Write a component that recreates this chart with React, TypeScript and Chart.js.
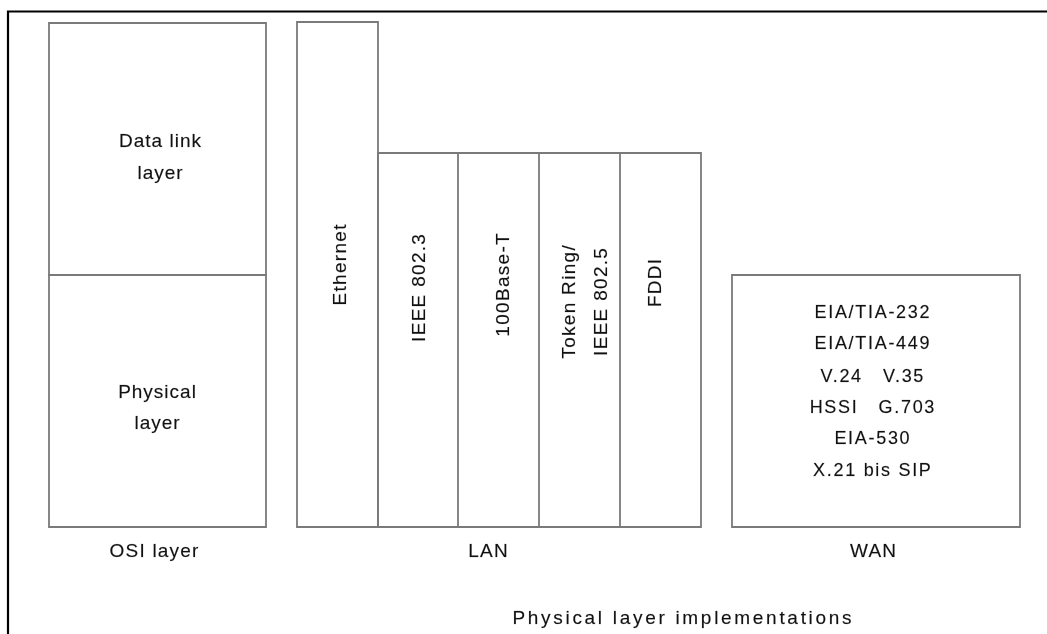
import React, { useEffect, useRef } from "react";
import { Chart, registerables } from "chart.js";

Chart.register(...registerables);

// ---- Diagram values (diagram units: x 0..1047, y 0..634 from top) ----
const frameX = [8, 8, 1047];
const frameY = [634, 11.5, 11.5];

const osiEdges = [49, 266];
const osiLevels = [23, 275, 527]; // top, data-link / physical split, bottom

const lanEdges = [297, 378, 458, 539, 620, 701];
const ethernetTop = 22;
const lanTop = 153;
const lanBottom = 527;

const wanEdges = [732, 1020];
const wanLevels = [275, 527];

const osiLayerLines = ["Data link", "layer", "Physical", "layer"];
const osiLayerX = [160, 160, 157, 157];
const osiLayerY = [140, 172, 391, 422];

const lanStandards = ["Ethernet", "IEEE 802.3", "100Base-T", "Token Ring/", "IEEE 802.5", "FDDI"];
const lanStandardX = [339, 418, 502, 568, 600, 654];
const lanStandardY = [265, 288, 285, 302, 302, 283];

const wanStandards = ["EIA/TIA-232", "EIA/TIA-449", "V.24   V.35", "HSSI   G.703", "EIA-530", "X.21 bis SIP"];
const wanStandardX = [872, 872, 872, 872, 872, 872];
const wanStandardY = [312, 343, 376, 407, 438, 470];

const groupLabels = ["OSI layer", "LAN", "WAN"];
const groupLabelX = [154, 488, 873];
const groupLabelY = [550.5, 550.5, 550.5];

const captionText = "Physical layer implementations";
const captionX = 682;
const captionY = 617.5;

// ---- helpers ----
type P = { x: number; y: number };
const rect = (l: number, r: number, t: number, b: number): P[] => [
  { x: l, y: b },
  { x: l, y: t },
  { x: r, y: t },
  { x: r, y: b },
  { x: l, y: b },
];
const seg = (x1: number, y1: number, x2: number, y2: number): P[] => [
  { x: x1, y: y1 },
  { x: x2, y: y2 },
];

const FONT = '"Liberation Sans", Arial, Helvetica, sans-serif';
const TEXT = "#111111";

const lineDs = (data: P[], color: string, width: number) => ({
  data,
  showLine: true,
  borderColor: color,
  borderWidth: width,
  pointRadius: 0,
  pointHoverRadius: 0,
  fill: false,
  tension: 0,
  borderCapStyle: "square" as const,
  borderJoinStyle: "miter" as const,
});

const labelsPlugin = {
  id: "diagramLabels",
  afterDatasetsDraw(chart: any) {
    const ctx: CanvasRenderingContext2D = chart.ctx;
    const xs = chart.scales.x;
    const ys = chart.scales.y;
    const px = (v: number) => xs.getPixelForValue(v);
    const py = (v: number) => ys.getPixelForValue(v);

    const put = (
      text: string,
      x: number,
      y: number,
      size: number,
      spacing: number,
      rotate = false
    ) => {
      ctx.save();
      ctx.font = `${size}px ${FONT}`;
      (ctx as any).letterSpacing = `${spacing}px`;
      ctx.fillStyle = TEXT;
      ctx.strokeStyle = "rgba(17,17,17,0.35)";
      ctx.lineWidth = 0.4;
      ctx.textBaseline = "alphabetic";
      ctx.textAlign = "left";
      const capHalf = size * 0.358;
      const w = ctx.measureText(text).width;
      const shift = spacing / 2; // compensate trailing letter spacing
      if (rotate) {
        ctx.translate(px(x), py(y));
        ctx.rotate(-Math.PI / 2);
        ctx.fillText(text, -w / 2 + shift, capHalf);
        ctx.strokeText(text, -w / 2 + shift, capHalf);
      } else {
        ctx.fillText(text, px(x) - w / 2 + shift, py(y) + capHalf);
        ctx.strokeText(text, px(x) - w / 2 + shift, py(y) + capHalf);
      }
      ctx.restore();
    };

    osiLayerLines.forEach((t, i) => put(t, osiLayerX[i], osiLayerY[i], 19, 1));
    lanStandards.forEach((t, i) => put(t, lanStandardX[i], lanStandardY[i], 19, 1.3, true));
    wanStandards.forEach((t, i) => put(t, wanStandardX[i], wanStandardY[i], 18, 1.7));
    groupLabels.forEach((t, i) => put(t, groupLabelX[i], groupLabelY[i], 19, 1.2));
    put(captionText, captionX, captionY, 19, 2.7);
  },
};

export default function App() {
  const ref = useRef<HTMLCanvasElement | null>(null);

  useEffect(() => {
    if (!ref.current) return;
    const outer = "#7a7a7a";
    const inner = "#555555";

    const datasets: any[] = [];
    // page frame
    datasets.push(lineDs(frameX.map((x, i) => ({ x, y: frameY[i] })), "#000000", 2.2));
    // OSI box + split
    datasets.push(lineDs(rect(osiEdges[0], osiEdges[1], osiLevels[0], osiLevels[2]), outer, 1.8));
    datasets.push(lineDs(seg(osiEdges[0], osiLevels[1], osiEdges[1], osiLevels[1]), outer, 1.8));
    // Ethernet column
    datasets.push(lineDs(rect(lanEdges[0], lanEdges[1], ethernetTop, lanBottom), outer, 1.8));
    // LAN sub-columns
    datasets.push(
      lineDs(rect(lanEdges[1], lanEdges[lanEdges.length - 1], lanTop, lanBottom), outer, 1.8)
    );
    for (let i = 2; i < lanEdges.length - 1; i++) {
      datasets.push(lineDs(seg(lanEdges[i], lanTop, lanEdges[i], lanBottom), inner, 1.4));
    }
    // WAN box
    datasets.push(lineDs(rect(wanEdges[0], wanEdges[1], wanLevels[0], wanLevels[1]), outer, 1.8));

    const chart = new Chart(ref.current, {
      type: "scatter",
      data: { datasets },
      options: {
        animation: false,
        responsive: false,
        devicePixelRatio: 1,
        layout: { padding: 0 },
        plugins: {
          legend: { display: false },
          tooltip: { enabled: false },
          title: { display: false },
        },
        events: [],
        scales: {
          x: { type: "linear", min: 0, max: 1047, display: false },
          y: { type: "linear", min: 0, max: 634, reverse: true, display: false },
        },
      },
      plugins: [labelsPlugin],
    });
    return () => chart.destroy();
  }, []);

  return (
    <div
      style={{
        position: "fixed",
        left: 0,
        top: 0,
        width: 1047,
        height: 634,
        background: "#ffffff",
      }}
    >
      <canvas ref={ref} width={1047} height={634} style={{ width: 1047, height: 634, display: "block" }} />
    </div>
  );
}
